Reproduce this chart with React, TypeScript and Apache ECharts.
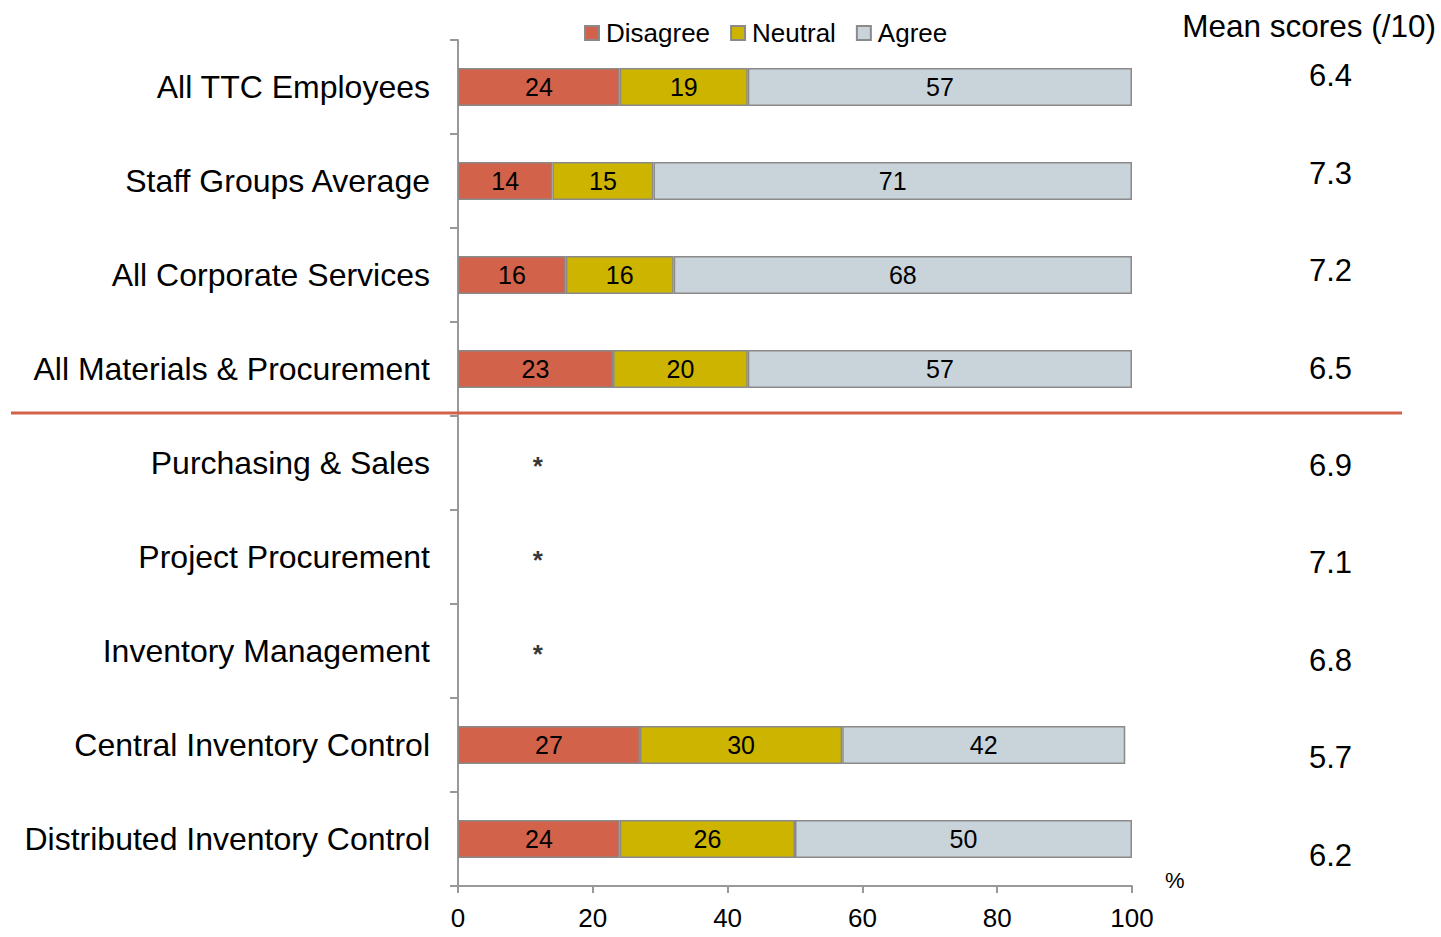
import React, { useEffect, useRef } from "react";
import * as echarts from "echarts";

const categories = [
  "All TTC Employees",
  "Staff Groups Average",
  "All Corporate Services",
  "All Materials & Procurement",
  "Purchasing & Sales",
  "Project Procurement",
  "Inventory Management",
  "Central Inventory Control",
  "Distributed Inventory Control",
];
const disagree = [24, 14, 16, 23, null, null, null, 27, 24];
const neutral = [19, 15, 16, 20, null, null, null, 30, 26];
const agree = [57, 71, 68, 57, null, null, null, 42, 50];
const meanScores = ["6.4", "7.3", "7.2", "6.5", "6.9", "7.1", "6.8", "5.7", "6.2"];
// categories with too few responses get an asterisk
const suppressed = [null, null, null, null, 12, 12, 12, null, null];
const xTicks = [0, 20, 40, 60, 80, 100];

const FONT = "Liberation Sans, Arial, sans-serif";

export default function App() {
  const ref = useRef<HTMLDivElement>(null);
  useEffect(() => {
    document.body.style.margin = "0";
    const chart = echarts.init(ref.current!, undefined, { renderer: "svg" });
    const barStyle = (color: string) => ({
      color,
      borderColor: "#8a8a8a",
      borderWidth: 1.5,
    });
    const label = {
      show: true,
      position: "inside" as const,
      color: "#000",
      fontSize: 25,
      fontFamily: FONT,
    };
    chart.setOption({
      animation: false,
      textStyle: { fontFamily: FONT },
      title: {
        text: "Mean scores (/10)",
        right: 0,
        top: 5,
        textStyle: { fontSize: 31.5, fontWeight: "normal", color: "#000", fontFamily: FONT },
      },
      legend: {
        left: 579,
        top: 15,
        itemWidth: 14,
        itemHeight: 14,
        itemGap: 20,
        icon: "rect",
        textStyle: { fontSize: 26, color: "#000", fontFamily: FONT, padding: [0, 0, 0, 2] },
        data: ["Disagree", "Neutral", "Agree"],
      },
      grid: [
        { left: 458, top: 40, width: 674, height: 846 },
        { left: 1352, top: 27, width: 40, height: 877 },
      ],
      xAxis: [
        {
          gridIndex: 0,
          type: "value",
          min: 0,
          max: 100,
          interval: 20,
          splitLine: { show: false },
          axisLine: { show: true, lineStyle: { color: "#999", width: 2 } },
          axisTick: { show: true, length: 7, lineStyle: { color: "#999", width: 2 } },
          axisLabel: {
            fontSize: 26,
            color: "#000",
            margin: 19,
            fontFamily: FONT,
            formatter: (v: number) => (xTicks.includes(v) ? String(v) : ""),
          },
          name: "%",
          nameLocation: "end",
          nameGap: 33,
          nameTextStyle: { fontSize: 22, color: "#000", fontFamily: FONT, padding: [0, 0, -5, 0], verticalAlign: "bottom" },
        },
        { gridIndex: 1, type: "value", show: false },
      ],
      yAxis: [
        {
          gridIndex: 0,
          type: "category",
          inverse: true,
          data: categories,
          axisLine: { show: true, lineStyle: { color: "#999", width: 2 } },
          axisTick: { show: true, length: 8, interval: 0, lineStyle: { color: "#999", width: 2 } },
          axisLabel: { fontSize: 32, color: "#000", margin: 28, fontFamily: FONT, interval: 0 },
        },
        {
          gridIndex: 1,
          type: "category",
          inverse: true,
          data: meanScores,
          position: "left",
          axisLine: { show: false },
          axisTick: { show: false },
          axisLabel: { fontSize: 31, color: "#000", margin: 0, fontFamily: FONT, interval: 0 },
        },
      ],
      series: [
        {
          name: "Disagree",
          type: "bar",
          stack: "s",
          barWidth: 38,
          data: disagree,
          itemStyle: barStyle("#d2624a"),
          label,
        },
        {
          name: "Neutral",
          type: "bar",
          stack: "s",
          barWidth: 38,
          data: neutral,
          itemStyle: barStyle("#ccb400"),
          label,
        },
        {
          name: "Agree",
          type: "bar",
          stack: "s",
          barWidth: 38,
          data: agree,
          itemStyle: barStyle("#c8d3da"),
          label,
        },
        {
          name: "suppressed",
          type: "scatter",
          symbolSize: 1,
          itemStyle: { color: "rgba(0,0,0,0)" },
          data: suppressed,
          label: {
            show: true,
            position: "inside",
            formatter: "*",
            fontSize: 26,
            fontWeight: "bold",
            color: "#000",
            fontFamily: FONT,
            offset: [-1, 3],
          },
        },
      ],
      graphic: [
        {
          type: "line",
          shape: { x1: 11, y1: 413, x2: 1402, y2: 413 },
          style: { stroke: "#d2624a", lineWidth: 3 },
          z: 10,
        },
      ],
    });
    return () => chart.dispose();
  }, []);
  return <div ref={ref} style={{ width: 1441, height: 937 }} />;
}
